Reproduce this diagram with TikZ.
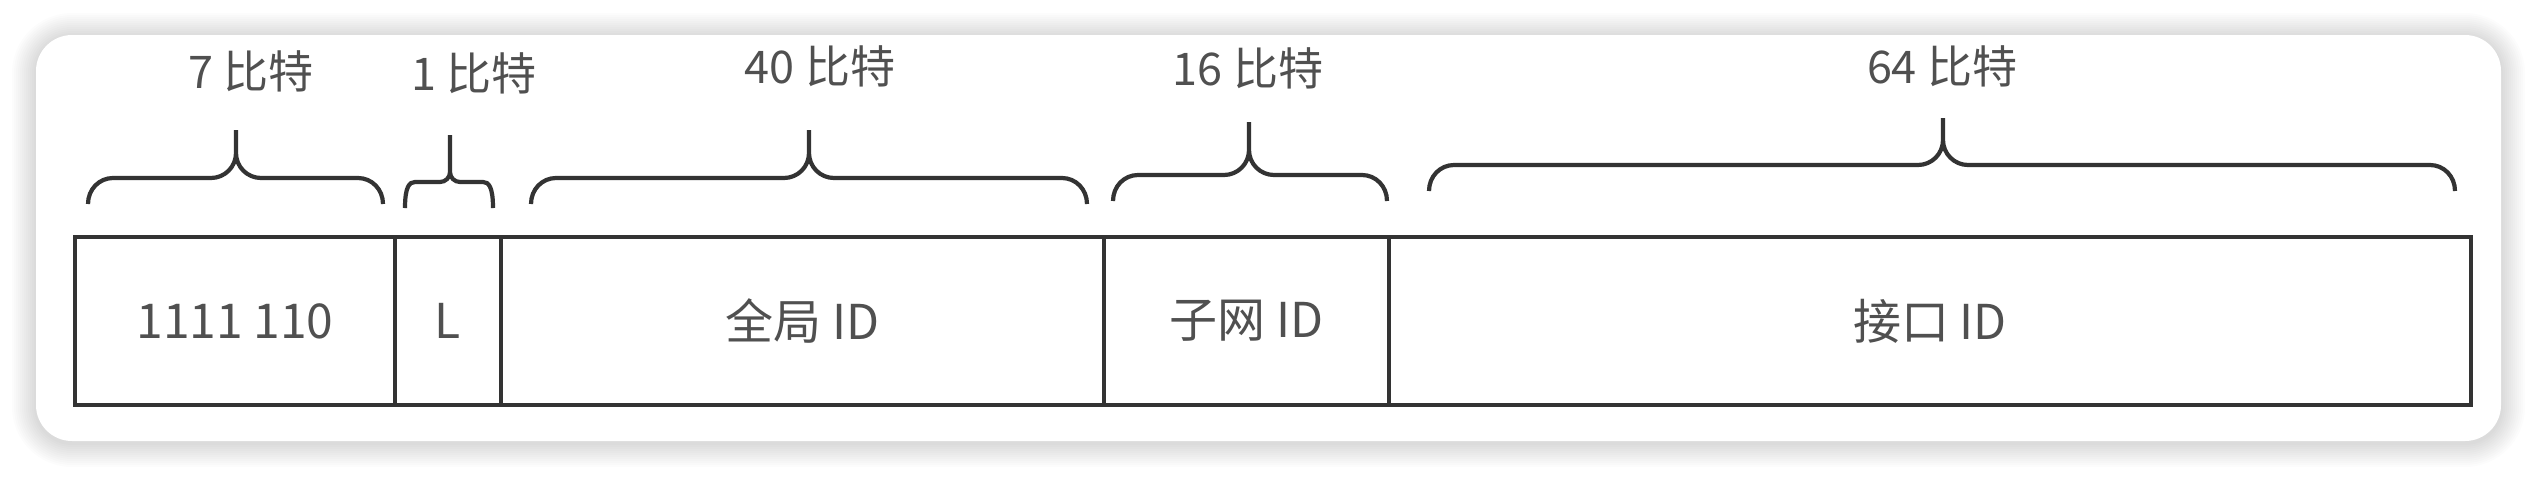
\documentclass[tikz,border=0pt]{standalone}
\usepackage{fontspec}
\newfontfamily\cjk{Noto Sans CJK SC}
\usepackage{tikz}
\definecolor{linegray}{HTML}{333333}
\definecolor{txtgray}{HTML}{505050}
\newcommand{\bitbrace}[6]% left, right, tip, line y, top y, radius
{(#1,#4+26) .. controls (#1,#4+0.45*#6) and (#1+0.45*#6,#4) .. (#1+#6,#4)
 -- (#3-#6,#4) .. controls (#3-0.45*#6,#4) and (#3,#4-0.45*#6) .. (#3,#4-#6)
 -- (#3,#5)
 (#3,#4-#6) .. controls (#3,#4-0.45*#6) and (#3+0.45*#6,#4) .. (#3+#6,#4)
 -- (#2-#6,#4) .. controls (#2-0.45*#6,#4) and (#2,#4+0.45*#6) .. (#2,#4+26)
}

\begin{document}
\begin{tikzpicture}[x=0.5pt,y=-0.5pt,
	field/.style={draw=linegray, line width=2pt, inner sep=0pt, outer sep=0pt,
		minimum height=84pt, text=txtgray, font=\cjk\fontsize{24}{28}\selectfont},
	bits/.style={text=txtgray, inner sep=0pt, font=\cjk\fontsize{22.5}{27}\selectfont},
	brace/.style={draw=linegray, line width=2.1pt}]
	\fill[white] (0,0) rectangle (2538,478);
	\useasboundingbox (0,0) rectangle (2538,478);
	% card with soft shadow
	\foreach \d in {1,...,12}{
		\pgfmathsetmacro\rr{18+\d}
		\fill[black, opacity=0.012, rounded corners=\rr pt] (36-2*\d,37-2*\d) rectangle (2501+2*\d,443+2*\d);
	}
	\fill[white, rounded corners=18pt] (36,35) rectangle (2501,441);
	% fields
	\node[field, minimum width=160pt] (f7) at (235,321) {1111 110};%7
	\node[field, minimum width=53pt] (fL) at (448,321) {L};%1
	\node[field, minimum width=301.5pt] (fglobal) at (802.5,321) {全局 ID};%40
	\node[field, minimum width=142.5pt] (fsubnet) at (1246.5,321) {子网 ID};%16
	\node[field, minimum width=541pt] (fiface) at (1930,321) {接口 ID};%64
	% bit counts
	\node[bits] (l7) at (251,71) {7 比特};
	\node[bits] (l1) at (474,73) {1 比特};
	\node[bits] (l40) at (820,66) {40 比特};
	\node[bits] (l16) at (1248,68) {16 比特};
	\node[bits] (l64) at (1942,66) {64 比特};
	\draw[brace] \bitbrace{88}{383}{236}{178}{130}{25};
	\draw[brace] \bitbrace{405}{493}{450}{182}{135}{10};
	\draw[brace] \bitbrace{531}{1087}{809}{178}{130}{25};
	\draw[brace] \bitbrace{1113}{1387}{1249}{175}{122}{25};
	\draw[brace] \bitbrace{1429}{2455}{1943}{165}{118}{25};
\end{tikzpicture}
\end{document}
